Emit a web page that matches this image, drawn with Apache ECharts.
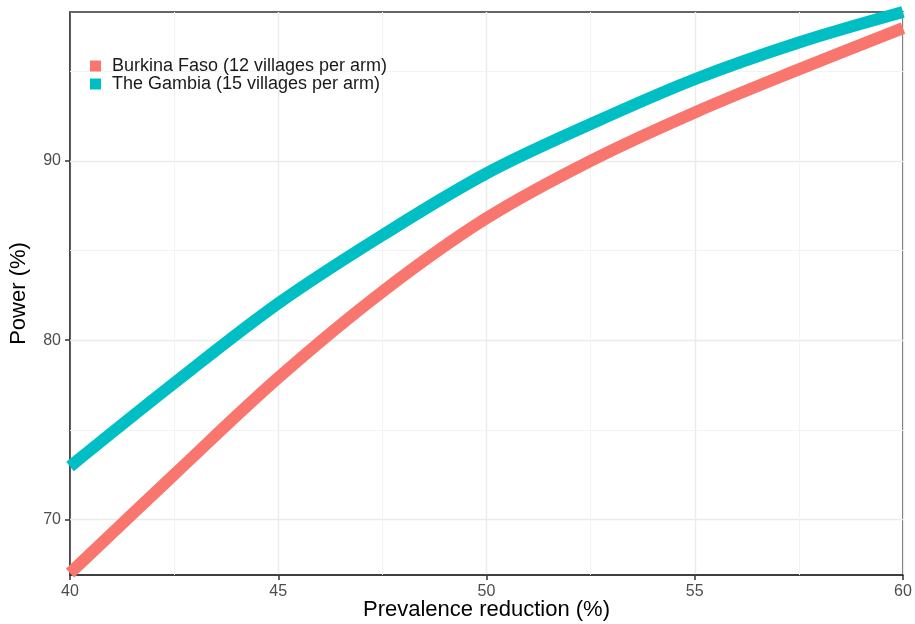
<!DOCTYPE html>
<html>
<head>
<meta charset="utf-8">
<script src="https://cdn.jsdelivr.net/npm/echarts@6/dist/echarts.min.js"></script>
<style>
  html, body { margin: 0; padding: 0; background: #fff; }
  #chart { width: 915px; height: 624px; }
</style>
</head>
<body>
<div id="chart"></div>
<script>
// 数据：读自原图
var reduction = [40, 42.5, 45, 47.5, 50, 52.5, 55, 57.5, 60];
var burkina = [67.0, 72.5, 77.9, 82.7, 86.8, 90.0, 92.7, 95.1, 97.4];
var gambia = [72.95, 77.6, 82.05, 85.85, 89.3, 92.05, 94.55, 96.6, 98.3];
var yTicks = [70, 80, 90];
var yMinor = [75, 85, 95];
var xMinor = [42.5, 47.5, 52.5, 57.5];

var names = ['Burkina Faso (12 villages per arm)', 'The Gambia (15 villages per arm)'];
var colors = ['#F8766D', '#00BFC4'];
var font = 'Liberation Sans, Arial, sans-serif';

function pairs(xs, ys) {
  return xs.map(function (x, i) { return [x, ys[i]]; });
}

// 网格线（次网格线用 markLine 画）
var gridLines = [];
yTicks.forEach(function (v) { gridLines.push({ yAxis: v, lineStyle: { color: '#ebebeb', width: 1.4, type: 'solid' } }); });
yMinor.forEach(function (v) { gridLines.push({ yAxis: v, lineStyle: { color: '#f3f3f3', width: 1, type: 'solid' } }); });
xMinor.forEach(function (v) { gridLines.push({ xAxis: v, lineStyle: { color: '#f3f3f3', width: 1, type: 'solid' } }); });

var chart = echarts.init(document.getElementById('chart'));
chart.setOption({
  backgroundColor: '#fff',
  animation: false,
  textStyle: { fontFamily: font },
  legend: {
    data: names,
    orient: 'vertical',
    left: 85,
    top: 52,
    icon: 'rect',
    itemWidth: 11,
    itemHeight: 11,
    itemGap: 0,
    textStyle: { fontSize: 18, color: '#1a1a1a', fontFamily: font, padding: [0, 0, 0, 6] }
  },
  grid: {
    left: 70, right: 12, top: 12, bottom: 49,
    outerBoundsMode: 'none',
    show: true, borderColor: '#333', borderWidth: 1.5
  },
  xAxis: {
    type: 'value',
    min: 40,
    max: 60,
    interval: 5,
    name: 'Prevalence reduction (%)',
    nameLocation: 'middle',
    nameGap: 24,
    nameMoveOverlap: false,
    nameTextStyle: { fontSize: 22, color: '#000' },
    axisLine: { show: true, onZero: false, lineStyle: { color: '#333', width: 1.5 } },
    axisTick: { show: true, length: 5, lineStyle: { color: '#333', width: 1.5 } },
    axisLabel: { fontSize: 16, color: '#4d4d4d', margin: 9 },
    splitLine: { show: true, lineStyle: { color: '#ebebeb', width: 1.4 } }
  },
  yAxis: {
    type: 'value',
    min: 66.9,
    max: 98.3,
    name: 'Power (%)',
    nameLocation: 'middle',
    nameGap: 40,
    nameMoveOverlap: false,
    nameRotate: 90,
    nameTextStyle: { fontSize: 22, color: '#000' },
    axisLine: { show: true, onZero: false, lineStyle: { color: '#333', width: 1.5 } },
    axisTick: { show: true, length: 5, customValues: yTicks, lineStyle: { color: '#333', width: 1.5 } },
    axisLabel: { fontSize: 16, color: '#4d4d4d', margin: 9, customValues: yTicks },
    splitLine: { show: false }
  },
  series: [
    {
      name: names[0],
      type: 'line',
      data: pairs(reduction, burkina),
      smooth: 0.35,
      showSymbol: false,
      z: 3,
      itemStyle: { color: colors[0] },
      lineStyle: { color: colors[0], width: 12 },
      markLine: {
        silent: true,
        symbol: 'none',
        label: { show: false },
        z: 1,
        data: gridLines
      }
    },
    {
      name: names[1],
      type: 'line',
      data: pairs(reduction, gambia),
      smooth: 0.35,
      showSymbol: false,
      z: 3,
      itemStyle: { color: colors[1] },
      lineStyle: { color: colors[1], width: 12 }
    }
  ]
});
window.onresize = chart.resize;
</script>
</body>
</html>
